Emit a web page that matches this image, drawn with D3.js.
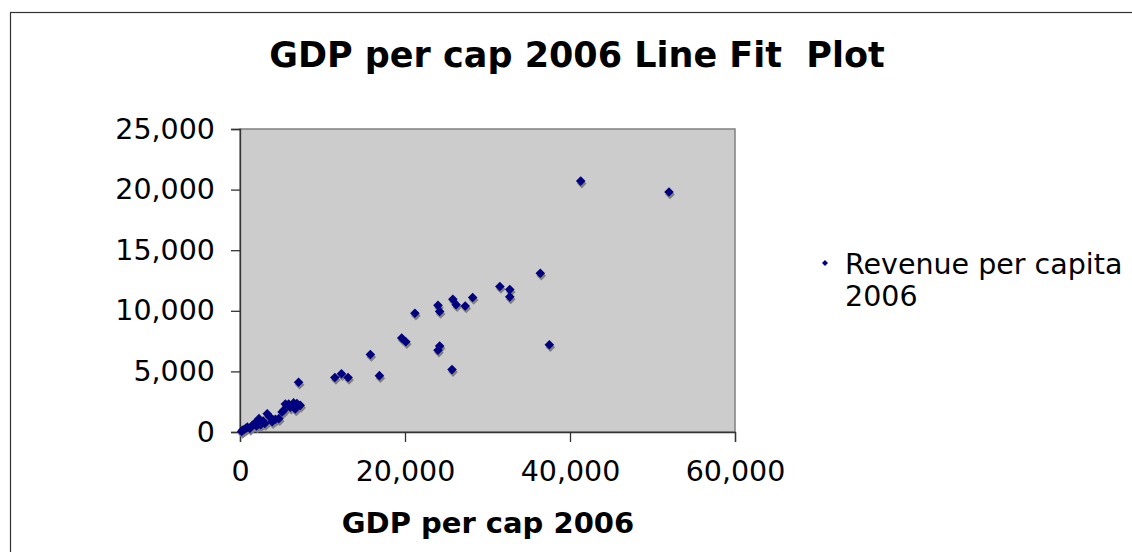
<!DOCTYPE html>
<html>
<head>
<meta charset="utf-8">
<script src="https://cdn.jsdelivr.net/npm/d3@7"></script>
<style>
    body { margin: 0; background: #fff; }
    svg { display: block; font-family: "DejaVu Sans", Verdana, sans-serif; }
</style>
</head>
<body>
<div id="chart"></div>
<script>
// GDP per capita 2006 (x) vs Revenue per capita 2006 (y)
const gdpPerCap = [
    41300, 52000, 36400, 31500, 32700, 32700, 37500, 28200, 27300, 25800,
    26200, 24000, 24200, 21200, 19600, 20100, 24200, 24000, 25700, 15800,
    16900, 11500, 12300, 13100, 7100,
    7300, 6900, 6500, 5900, 5500, 6100, 6700, 5100, 4700, 4300,
    3300, 3600, 3900, 2800, 2300, 1900, 1500, 2500, 900, 500,
    300, 200, 1200, 3000, 2000, 700, 4000, 5300
];
const revenuePerCap = [
    20700, 19800, 13100, 12000, 11750, 11150, 7200, 11100, 10400, 10950,
    10500, 10450, 9950, 9800, 7750, 7450, 7100, 6750, 5150, 6400,
    4650, 4500, 4800, 4500, 4100,
    2200, 2350, 2400, 2300, 2300, 2050, 1900, 1650, 1100, 1050,
    1500, 1250, 850, 900, 1100, 800, 550, 600, 400, 200,
    150, 50, 300, 700, 500, 300, 1000, 1800
];
const xTicks = [0, 20000, 40000, 60000];
const yTicks = [0, 5000, 10000, 15000, 20000, 25000];

const chartTitle = 'GDP per cap 2006 Line Fit  Plot';
const xTitle = 'GDP per cap 2006';
const legendLines = ['Revenue per capita', '2006'];

const width = 1132;
const height = 552;
const plot = { left: 240, right: 735, top: 129, bottom: 432 };

const svg = d3.select('#chart')
    .append('svg')
    .attr('width', width)
    .attr('height', height);

// outer chart frame (runs off the right and bottom of the picture)
svg.append('rect')
    .attr('x', 10.5)
    .attr('y', 12.5)
    .attr('width', width)
    .attr('height', height)
    .attr('fill', '#fff')
    .attr('stroke', '#333')
    .attr('stroke-width', 1.2);

const x = d3.scaleLinear().domain([0, 60000]).range([plot.left, plot.right]);
const y = d3.scaleLinear().domain([0, 25000]).range([plot.bottom, plot.top]);

// plot area
svg.append('rect')
    .attr('x', plot.left)
    .attr('y', plot.top)
    .attr('width', plot.right - plot.left)
    .attr('height', plot.bottom - plot.top)
    .attr('fill', '#cccccc')
    .attr('stroke', '#808080')
    .attr('stroke-width', 1.5);

const fmt = d3.format(',');

const yAxis = svg.append('g')
    .attr('transform', `translate(${plot.left},0)`)
    .call(d3.axisLeft(y).tickValues(yTicks).tickFormat(fmt).tickSize(9).tickPadding(16));

const xAxis = svg.append('g')
    .attr('transform', `translate(0,${plot.bottom})`)
    .call(d3.axisBottom(x).tickValues(xTicks).tickFormat(fmt).tickSize(10).tickPadding(19));

[xAxis, yAxis].forEach(ax => {
    ax.select('.domain').attr('stroke', '#333').attr('stroke-width', 1.3);
    ax.selectAll('.tick line').attr('stroke', '#333').attr('stroke-width', 1.3);
    ax.selectAll('.tick text')
        .attr('fill', '#000')
        .style('font-family', '"DejaVu Sans", Verdana, sans-serif')
        .style('font-size', '28.5px');
});

// markers: navy diamonds with a grey shadow
const points = gdpPerCap.map((g, i) => ({ g: g, r: revenuePerCap[i] }));
const diamond = d3.symbol().type(d3.symbolSquare).size(46);

svg.append('g').selectAll('path')
    .data(points)
    .enter()
    .append('path')
    .attr('d', diamond)
    .attr('fill', '#808080')
    .attr('transform', d => `translate(${x(d.g) + 1},${y(d.r) + 2.5}) rotate(45)`);

svg.append('g').selectAll('path')
    .data(points)
    .enter()
    .append('path')
    .attr('d', diamond)
    .attr('fill', '#000080')
    .attr('transform', d => `translate(${x(d.g)},${y(d.r)}) rotate(45)`);

// titles
svg.append('text')
    .attr('x', 577)
    .attr('y', 67)
    .attr('text-anchor', 'middle')
    .style('white-space', 'pre')
    .style('font-size', '35px')
    .style('font-weight', 'bold')
    .text(chartTitle);

svg.append('text')
    .attr('x', 488)
    .attr('y', 533)
    .attr('text-anchor', 'middle')
    .style('font-size', '29px')
    .style('font-weight', 'bold')
    .text(xTitle);

// legend
svg.append('path')
    .attr('d', d3.symbol().type(d3.symbolSquare).size(18))
    .attr('fill', '#000080')
    .attr('transform', 'translate(825,263) rotate(45)');

svg.append('g').selectAll('text')
    .data(legendLines)
    .enter()
    .append('text')
    .attr('x', 845)
    .attr('y', (d, i) => 274 + i * 32)
    .style('font-size', '28.5px')
    .text(d => d);
</script>
</body>
</html>
